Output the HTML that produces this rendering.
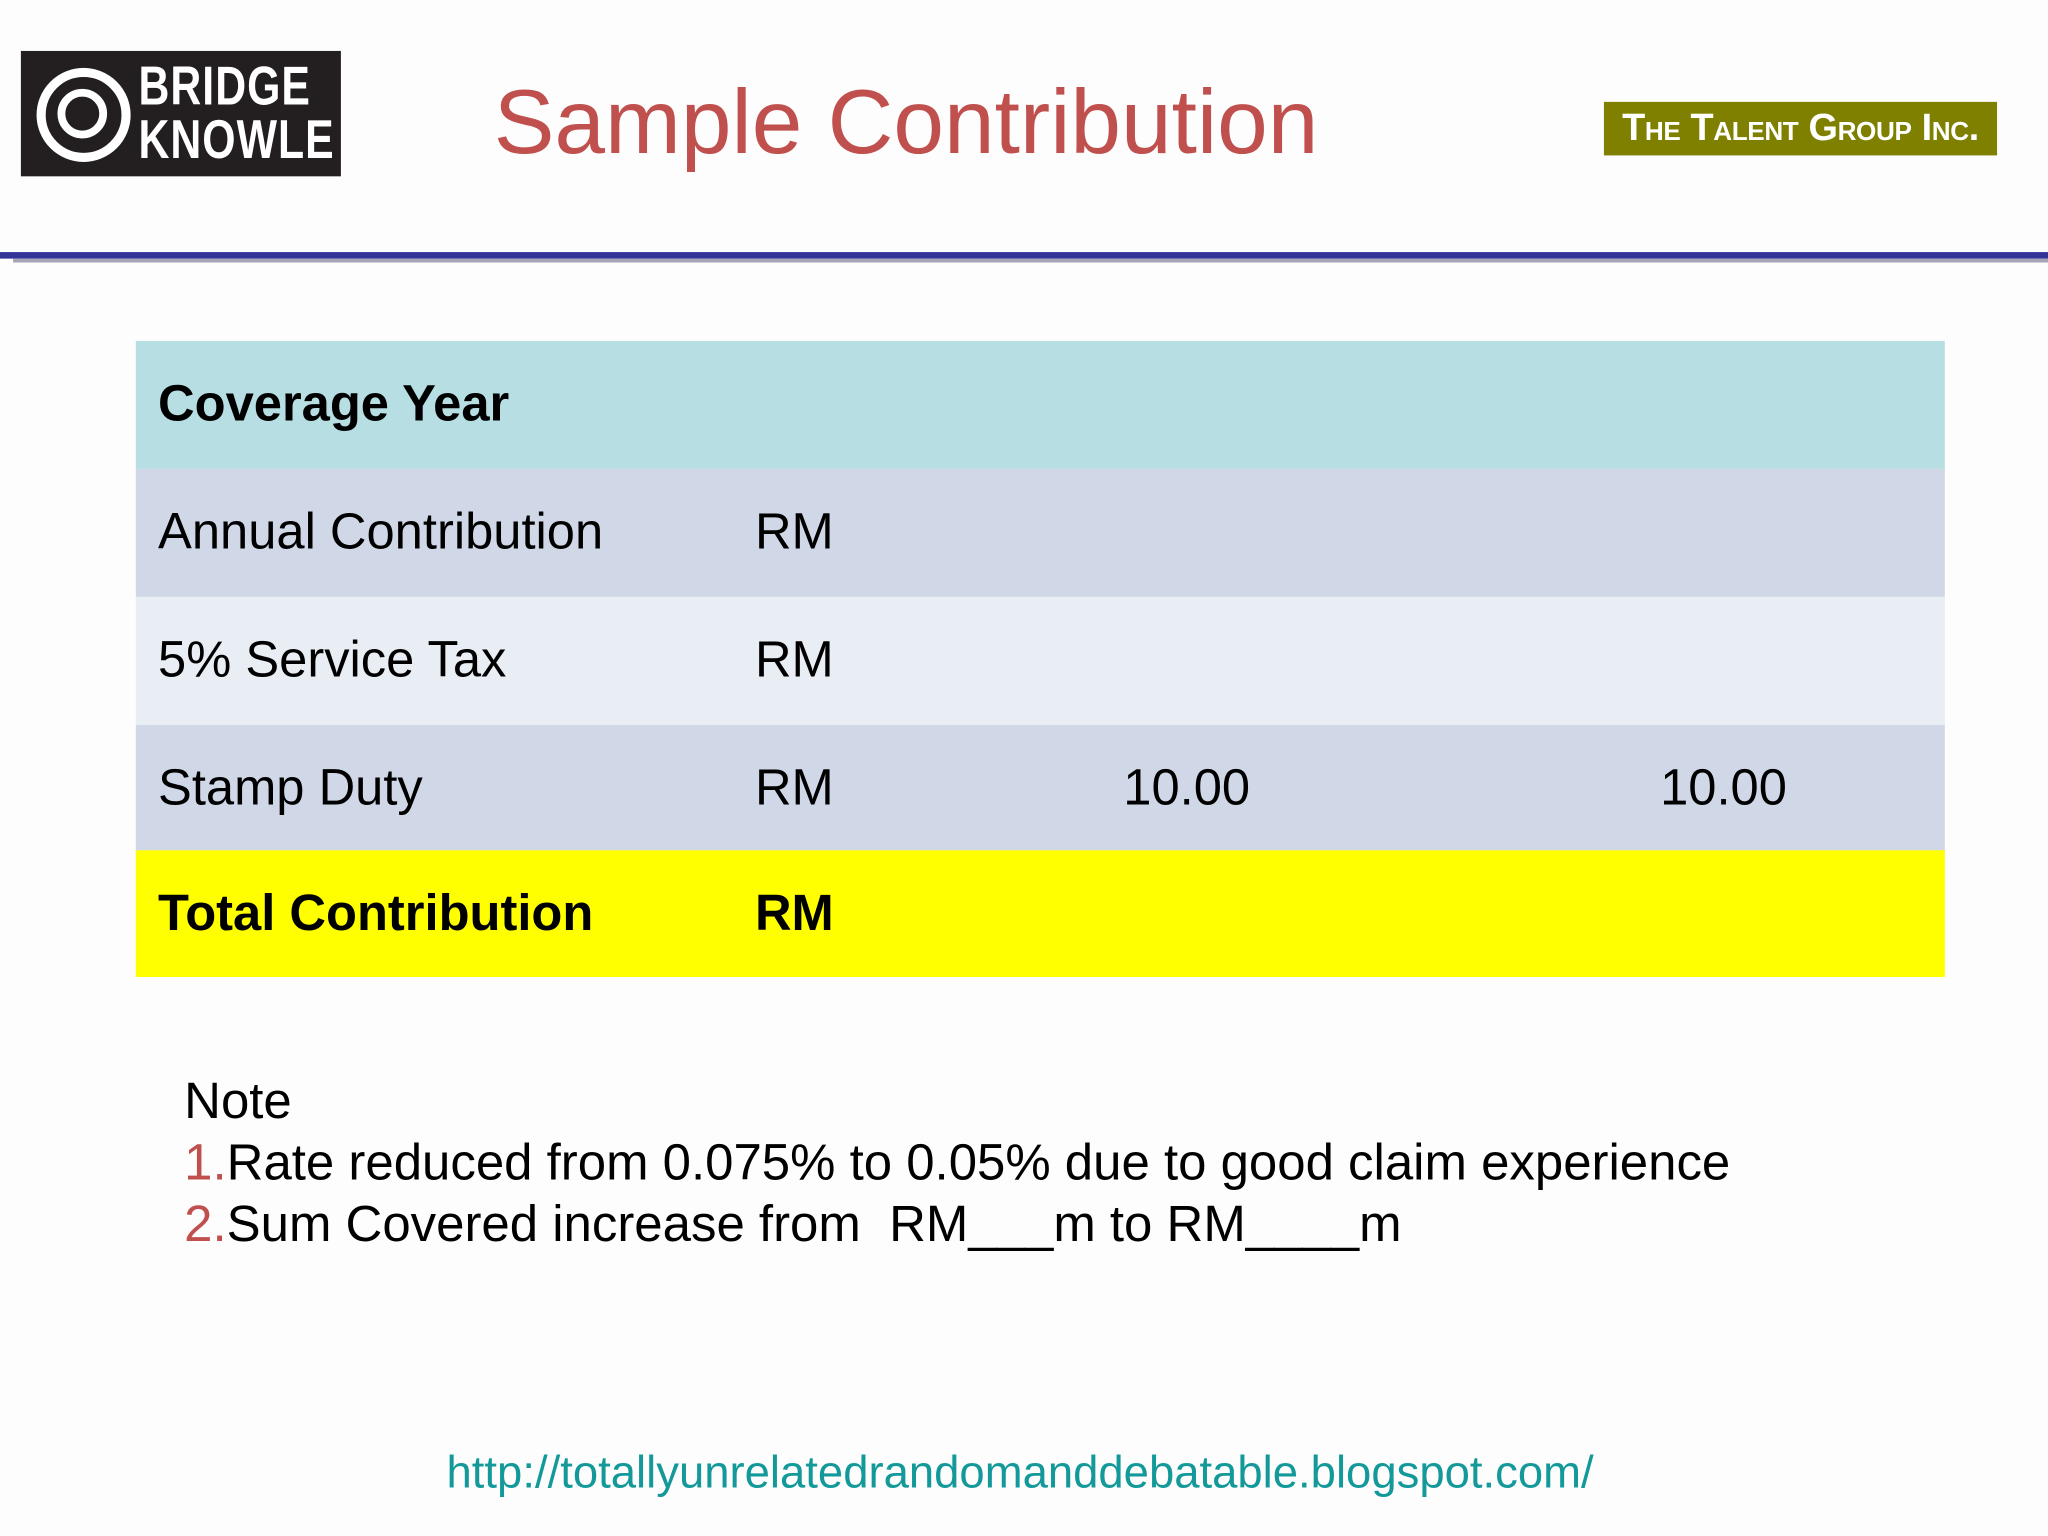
<!DOCTYPE html>
<html><head><meta charset="utf-8"><style>
html,body{margin:0;padding:0;background:#fdfdfd;}
body{width:2048px;height:1536px;overflow:hidden;font-family:"Liberation Sans",Arial,sans-serif;}
#s{position:absolute;left:0;top:0;width:1568px;height:1176px;transform:scale(1.306122);transform-origin:0 0;}
.a{position:absolute;}
.row{position:absolute;left:104px;width:1385px;height:98px;}
.t{position:absolute;font-size:38.8px;line-height:98px;top:0;color:#000;}
</style></head><body>
<div id="s">
 <div class="a" style="left:16px;top:39px;width:245px;height:96px;background:#231f20;">
  <div class="a" style="left:12px;top:13px;width:58px;height:58px;border:7px solid #fff;border-radius:50%;"></div>
  <div class="a" style="left:28px;top:29px;width:26px;height:26px;border:6px solid #fff;border-radius:50%;"></div>
  <div class="a" style="left:90px;top:6px;color:#fff;font-weight:bold;font-size:42px;line-height:41px;transform:scaleX(0.78);transform-origin:0 0;letter-spacing:1px;">BRIDGE<br>KNOWLE</div>
 </div>
 <div class="a" style="left:378px;top:53px;font-size:69.7px;line-height:80px;color:#c0504d;">Sample Contribution</div>
 <div class="a" style="left:1228px;top:78px;width:301px;height:41px;background:#808000;color:#fff;font-weight:bold;font-size:29px;line-height:41px;text-align:center;font-variant:small-caps;white-space:nowrap;letter-spacing:-0.3px;">The Talent Group Inc.</div>
 <div class="a" style="left:0;top:193px;width:1568px;height:5px;background:#333399;"></div>
 <div class="a" style="left:10px;top:198px;width:1558px;height:3px;background:#a6a6b8;"></div>

 <div class="row" style="top:261px;background:#b7dfe3;"><div class="t" style="left:17px;font-weight:bold;">Coverage Year</div></div>
 <div class="row" style="top:359px;background:#d0d8e8;"><div class="t" style="left:17px;">Annual Contribution</div><div class="t" style="left:474px;">RM</div></div>
 <div class="row" style="top:457px;background:#e9edf4;"><div class="t" style="left:17px;">5% Service Tax</div><div class="t" style="left:474px;">RM</div></div>
 <div class="row" style="top:555px;background:#d0d8e8;"><div class="t" style="left:17px;">Stamp Duty</div><div class="t" style="left:474px;">RM</div><div class="t" style="left:756px;">10.00</div><div class="t" style="left:1167px;">10.00</div></div>
 <div class="row" style="top:651px;height:97px;background:#ffff00;"><div class="t" style="left:17px;font-weight:bold;">Total Contribution</div><div class="t" style="left:474px;font-weight:bold;">RM</div></div>

 <div class="a" style="left:141px;top:820px;font-size:39px;line-height:47px;color:#000;white-space:nowrap;">
  <div>Note</div>
  <div><span style="color:#c0504d">1.</span>Rate reduced from 0.075% to 0.05% due to good claim experience</div>
  <div><span style="color:#c0504d">2.</span>Sum Covered increase from &nbsp;RM___m to RM____m</div>
 </div>
 <div class="a" style="left:0;width:1562px;text-align:center;top:1106px;font-size:34.8px;line-height:44px;color:#14999a;">http://totallyunrelatedrandomanddebatable.blogspot.com/</div>
</div>
</body></html>
